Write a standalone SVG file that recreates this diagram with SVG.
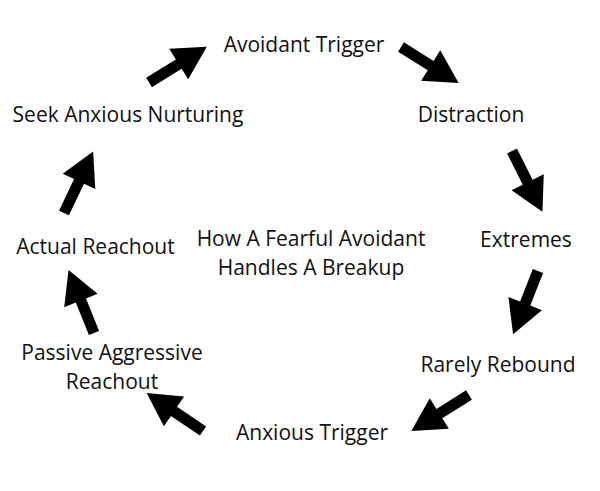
<svg xmlns="http://www.w3.org/2000/svg" width="600" height="491" viewBox="0 0 600 491">
<style>
text{font-family:"Open Sans","Liberation Sans",sans-serif;font-size:21px;fill:#111;text-anchor:middle}
.arr{fill:#000}
</style>
<defs>
<path id="arrow" d="M0,-5.5 L35,-5.5 L35,-18 L68,0 L35,18 L35,5.5 L0,5.5 Z"/>
</defs>
<rect width="600" height="491" fill="#fff"/>
<g id="connectors" class="arr">
<use href="#arrow" transform="translate(149,82.5) rotate(-31.8)"/>
<use href="#arrow" transform="translate(401,47) rotate(32)"/>
<use href="#arrow" transform="translate(512,151) rotate(63.4)"/>
<use href="#arrow" transform="translate(538,271) rotate(111.5)"/>
<use href="#arrow" transform="translate(469,395) rotate(148)"/>
<use href="#arrow" transform="translate(203,431) rotate(214)"/>
<use href="#arrow" transform="translate(94,333) rotate(248)"/>
<use href="#arrow" transform="translate(64,213) rotate(-64.6)"/>
</g>
<g id="avoidant-trigger"><text x="304" y="52">Avoidant Trigger</text></g>
<g id="distraction"><text x="471" y="122">Distraction</text></g>
<g id="extremes"><text x="526" y="247">Extremes</text></g>
<g id="rarely-rebound"><text x="498" y="372">Rarely Rebound</text></g>
<g id="anxious-trigger"><text x="312" y="440">Anxious Trigger</text></g>
<g id="passive-aggressive"><text x="112" y="360">Passive Aggressive</text><text x="112" y="389">Reachout</text></g>
<g id="actual-reachout"><text x="95.5" y="254">Actual Reachout</text></g>
<g id="seek-anxious"><text x="128" y="122">Seek Anxious Nurturing</text></g>
<g id="title"><text x="311" y="246">How A Fearful Avoidant</text><text x="311" y="275">Handles A Breakup</text></g>
</svg>
